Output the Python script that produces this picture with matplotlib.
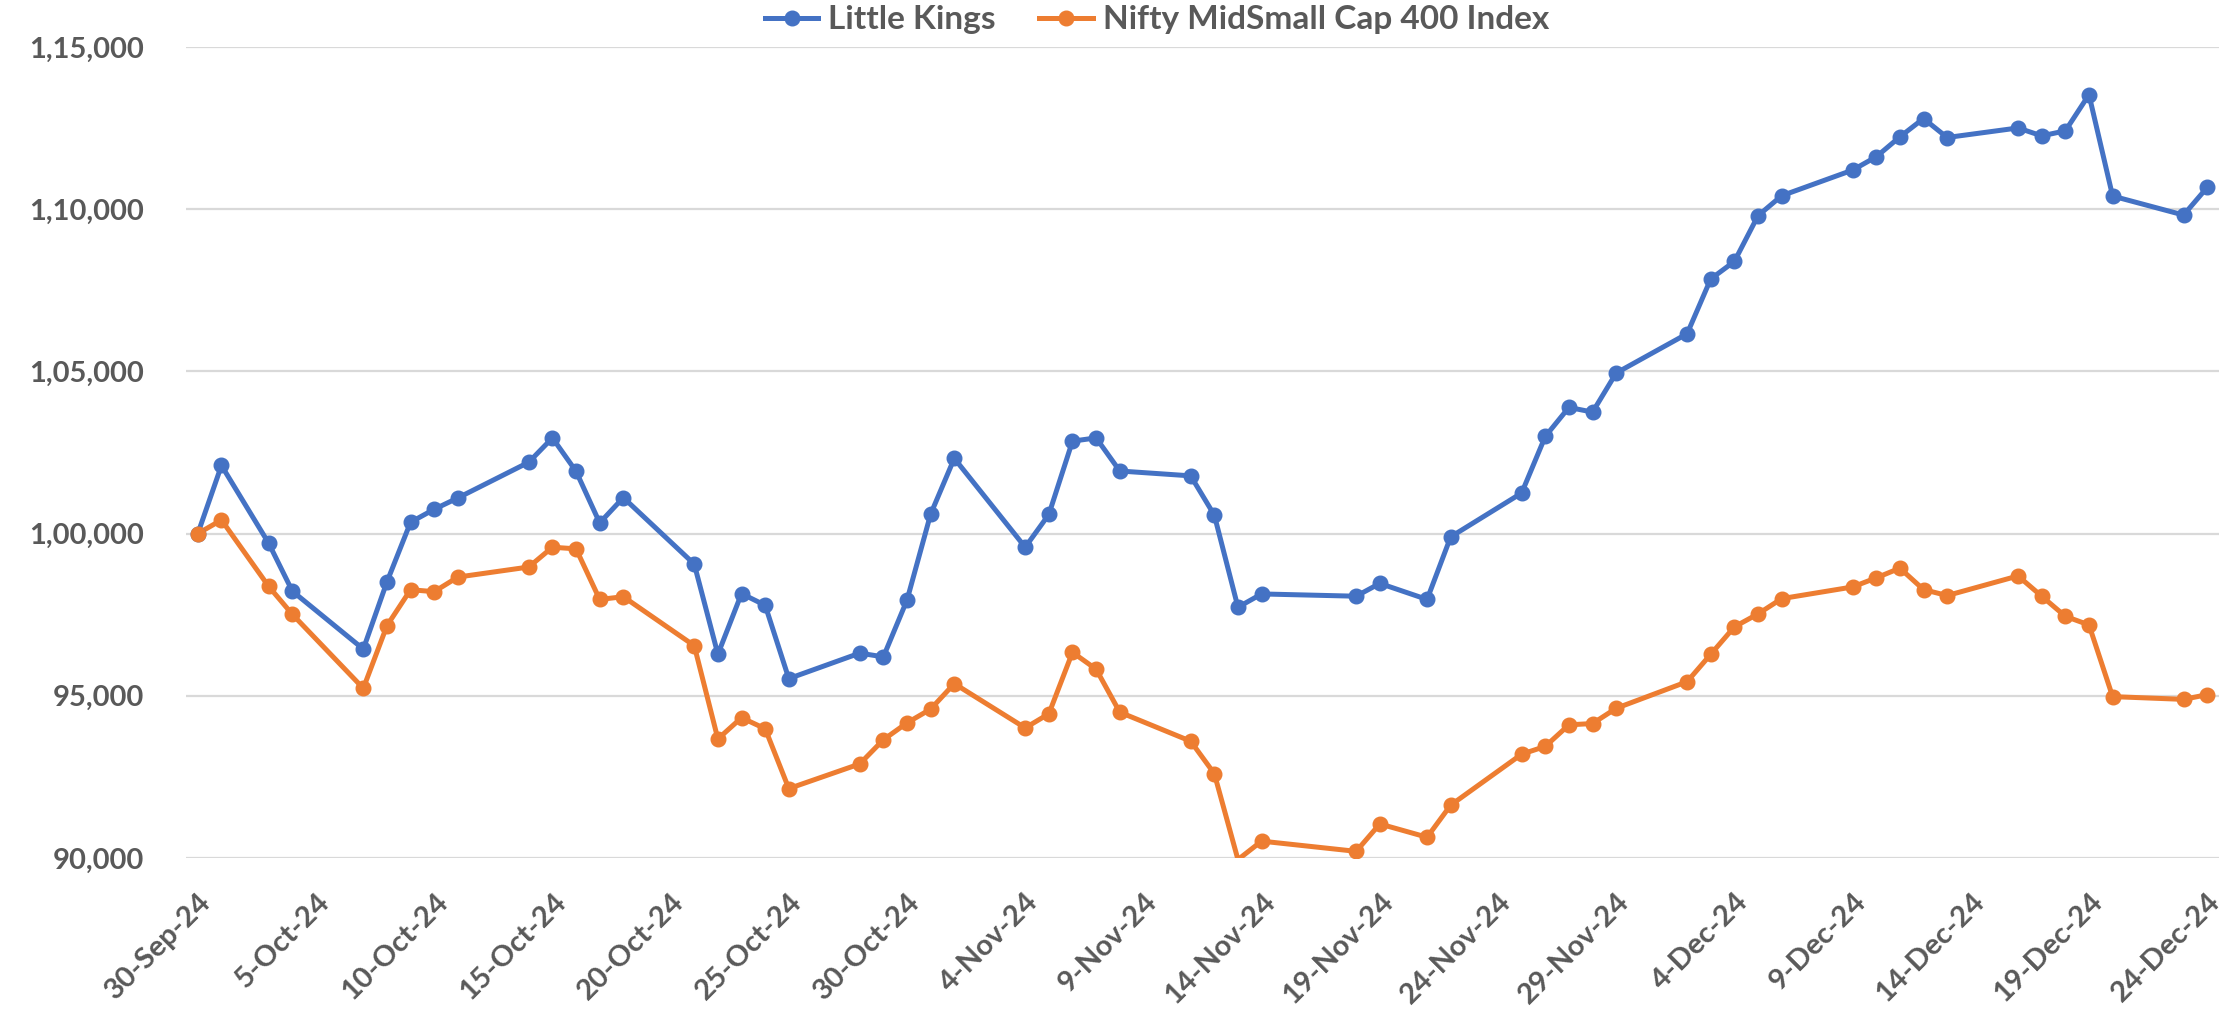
import numpy as np
import matplotlib.pyplot as plt
from matplotlib.ticker import FuncFormatter
import datetime as dt

# trading days shown on the chart
dates = ["2024-09-30", "2024-10-01", "2024-10-03", "2024-10-04",
         "2024-10-07", "2024-10-08", "2024-10-09", "2024-10-10", "2024-10-11",
         "2024-10-14", "2024-10-15", "2024-10-16", "2024-10-17", "2024-10-18",
         "2024-10-21", "2024-10-22", "2024-10-23", "2024-10-24", "2024-10-25",
         "2024-10-28", "2024-10-29", "2024-10-30", "2024-10-31", "2024-11-01",
         "2024-11-04", "2024-11-05", "2024-11-06", "2024-11-07", "2024-11-08",
         "2024-11-11", "2024-11-12", "2024-11-13", "2024-11-14",
         "2024-11-18", "2024-11-19", "2024-11-21", "2024-11-22",
         "2024-11-25", "2024-11-26", "2024-11-27", "2024-11-28", "2024-11-29",
         "2024-12-02", "2024-12-03", "2024-12-04", "2024-12-05", "2024-12-06",
         "2024-12-09", "2024-12-10", "2024-12-11", "2024-12-12", "2024-12-13",
         "2024-12-16", "2024-12-17", "2024-12-18", "2024-12-19", "2024-12-20",
         "2024-12-23", "2024-12-24"]

little_kings = [100000, 102100, 99700, 98225,
                96440, 98510, 100350, 100750, 101100,
                102200, 102950, 101920, 100330, 101110,
                99060, 96280, 98150, 97790, 95530,
                96315, 96200, 97950, 100600, 102320,
                99580, 100590, 102850, 102950, 101930,
                101780, 100570, 97730, 98140,
                98070, 98465, 97970, 99900,
                101250, 102995, 103890, 103745, 104950,
                106160, 107850, 108390, 109800, 110415,
                111205, 111615, 112230, 112795, 112210,
                112505, 112260, 112415, 113530, 110405,
                109820, 110670]

nifty_midsmall = [100000, 100420, 98370, 97510,
                  95230, 97160, 98270, 98210, 98660,
                  98970, 99580, 99530, 97970, 98055,
                  96545, 93670, 94325, 93985, 92140,
                  92900, 93645, 94165, 94590, 95375,
                  94010, 94445, 96340, 95820, 94495,
                  93600, 92600, 89950, 90520,
                  90205, 91050, 90640, 91630,
                  93200, 93440, 94105, 94145, 94615,
                  95435, 96280, 97125, 97525, 97995,
                  98355, 98635, 98935, 98275, 98090,
                  98695, 98070, 97450, 97185, 94975,
                  94890, 95035]

x = [dt.datetime.strptime(d, "%Y-%m-%d") for d in dates]
y_min, y_max = 90000, 115000

grey = "#595959"
plt.rcParams['font.family'] = ['Lato', 'DejaVu Sans']
plt.rcParams['font.weight'] = 'bold'

fig = plt.figure(figsize=(22.39, 10.15), dpi=100)
ax = fig.add_axes([186/2239, 1 - 858/1015, (2219 - 186)/2239, (858 - 47)/1015])


def indian(v, pos=None):
    s = str(int(round(v)))
    if len(s) <= 3:
        return s
    last3 = s[-3:]
    rest = s[:-3]
    parts = []
    while len(rest) > 2:
        parts.insert(0, rest[-2:])
        rest = rest[:-2]
    if rest:
        parts.insert(0, rest)
    return ",".join(parts) + "," + last3


for vals, col, name in [(little_kings, "#4472C4", "Little Kings"),
                        (nifty_midsmall, "#ED7D31", "Nifty MidSmall Cap 400 Index")]:
    v = np.array(vals, dtype=float)
    ax.plot(x, v, color=col, lw=3.6, zorder=3)
    # Excel hides markers that fall outside the axis range
    vm = np.ma.masked_less(v, y_min)
    ax.plot(x, vm, color=col, lw=0, marker='o', ms=10.5, zorder=4)
    ax.plot([], [], color=col, lw=3.6, marker='o', ms=10.5, label=name)

ax.set_ylim(y_min, y_max)
ax.set_yticks(np.arange(y_min, y_max + 1, 5000))
ax.yaxis.set_major_formatter(FuncFormatter(indian))

start = dt.datetime(2024, 9, 30)
ticks = [start + dt.timedelta(days=5 * i) for i in range(18)]
ax.set_xticks(ticks)
ax.set_xticklabels([f"{t.day}-{t.strftime('%b-%y')}" for t in ticks],
                   rotation=45, ha='right', va='top', rotation_mode='anchor')
ax.set_xlim(start - dt.timedelta(hours=12), dt.datetime(2024, 12, 24, 12))

ax.grid(axis='y', color='#D9D9D9', lw=1.6, zorder=0)
for s in ax.spines.values():
    s.set_visible(False)
ax.tick_params(axis='both', length=0, labelsize=21, labelcolor=grey)
ax.tick_params(axis='y', pad=30)
ax.tick_params(axis='x', pad=22)

leg = fig.legend(loc='center', bbox_to_anchor=(1157/2239, 1 - 20/1015), ncol=2,
                 frameon=False, fontsize=24, handlelength=1.6, handletextpad=0.3,
                 columnspacing=1.3, labelcolor=grey)

fig.savefig("out.png", dpi=100)
